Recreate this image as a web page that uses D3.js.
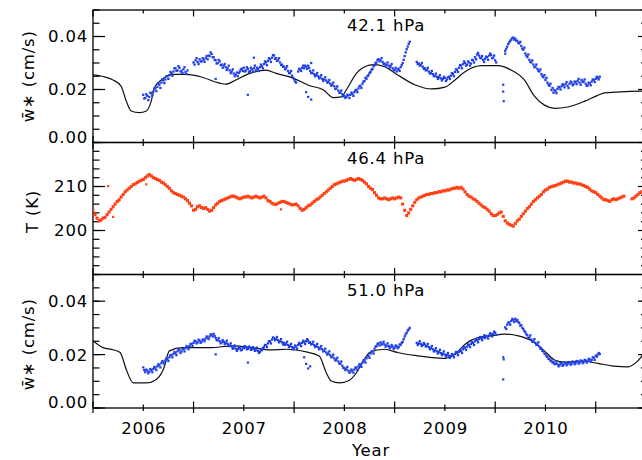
<!doctype html>
<html>
<head>
<meta charset="utf-8">
<title>w* and T at three pressure levels</title>
<script src="https://cdnjs.cloudflare.com/ajax/libs/d3/7.8.5/d3.min.js"></script>
<style>
body { margin: 0; background: #fff; }
text { font-family: "DejaVu Sans", sans-serif; font-size: 16.5px; letter-spacing: 0.8px; fill: #000; }
.frame { fill: none; stroke: #000; stroke-width: 1.3px; }
.tk { stroke: #000; stroke-width: 1.2px; }
.model { fill: none; stroke: #111; stroke-width: 1.2px; }
</style>
</head>
<body>
<script>
// ---- data (decimal years; sampled every 0.02 yr from the start year) ----
var yearLabels = [2006, 2007, 2008, 2009, 2010];
var halfYears = [2005.5, 2006.5, 2007.5, 2008.5, 2009.5, 2010.5];
var step = 0.02;

// 42.1 hPa, observed w* (cm/s): two interleaved sets of retrievals
var obs42Start = 2006.0;
var obs42 = [
  .0180,.0168,.0176,.0172,.0186,.0192,.0204,.0210,.0218,.0226,
  .0234,.0238,.0250,.0254,.0262,.0268,.0280,.0272,.0282,.0270,
  .0276,.0266,.0272,null,null,.0302,.0310,.0304,.0314,.0306,
  .0312,.0318,.0314,.0326,.0334,.0322,.0310,.0300,.0306,.0294,
  .0290,.0284,.0280,.0272,.0268,.0260,.0256,.0250,.0268,.0278,
  .0282,.0272,.0278,.0270,.0276,.0280,.0272,.0278,.0284,.0288,
  .0296,.0302,.0308,.0314,.0320,.0328,.0318,.0310,.0302,.0294,
  .0286,.0280,.0270,.0262,.0252,.0238,.0226,.0268,.0276,.0282,
  .0280,.0286,.0290,.0270,.0262,.0258,.0254,.0250,.0246,.0240,
  .0238,.0234,.0228,.0222,.0218,.0212,.0204,.0196,.0188,.0182,
  .0176,.0172,.0178,.0180,.0184,.0190,.0198,.0204,.0214,.0222,
  .0232,.0240,.0254,.0266,.0278,.0292,.0302,.0314,.0310,.0304,
  .0298,.0294,.0290,.0288,.0280,.0274,.0268,.0278,.0284,.0300,
  .0326,.0352,.0372,null,null,null,.0304,.0298,.0292,.0286,
  .0280,.0274,.0268,.0262,.0258,.0252,.0248,.0246,.0242,.0240,
  .0244,.0238,.0248,.0252,.0258,.0266,.0274,.0282,.0290,.0296,
  .0300,.0294,.0302,.0298,.0310,.0322,.0332,.0328,.0318,.0312,
  .0316,.0322,.0328,.0330,.0320,.0310,null,null,null,null,
  .0346,.0362,.0378,.0388,.0396,.0392,.0384,.0374,.0364,.0350,
  .0336,.0322,.0312,.0302,.0294,.0286,.0278,.0268,.0258,.0246,
  .0236,.0226,.0214,.0198,.0188,.0194,.0202,.0208,.0212,.0216,
  .0220,.0214,.0222,.0226,.0220,.0228,.0232,.0226,.0236,.0230,
  .0222,.0216,.0224,.0230,.0236,.0240,.0244,.0248
];
var obs42bStart = 2006.01;
var obs42b = [
  .0166,.0182,.0160,.0188,.0178,.0204,.0194,.0222,.0206,.0238,
  .0224,.0250,.0240,.0266,.0252,.0280,.0270,.0288,.0268,.0262,
  .0284,.0258,null,null,null,.0294,.0318,.0296,.0306,.0318,
  .0304,.0326,.0328,.0340,.0322,.0312,.0298,.0312,.0292,.0282,
  .0296,.0274,.0290,.0262,.0276,.0250,.0264,.0262,.0276,.0270,
  .0268,.0284,.0266,.0282,.0268,.0290,.0282,.0270,.0294,.0280,
  .0306,.0292,.0318,.0304,.0330,.0316,.0308,.0318,.0292,.0286,
  .0276,.0288,.0262,.0270,.0244,.0230,null,.0278,.0270,.0290,
  .0290,.0278,.0282,.0262,.0272,.0250,.0262,.0242,.0254,.0232,
  .0246,.0226,.0236,.0214,.0226,.0202,.0212,.0188,.0196,.0174,
  .0168,.0180,.0168,.0188,.0176,.0198,.0190,.0212,.0206,.0230,
  .0244,.0250,.0262,.0274,.0288,.0300,.0312,.0306,.0318,.0296,
  .0290,.0302,.0282,.0296,.0272,.0282,.0276,.0270,.0292,.0312,
  .0340,.0362,.0380,null,null,null,.0296,.0290,.0300,.0278,
  .0272,.0282,.0260,.0270,.0250,.0260,.0240,.0254,.0234,.0248,
  .0232,.0246,.0240,.0262,.0250,.0276,.0266,.0292,.0280,.0306,
  .0290,.0306,.0290,.0312,.0302,.0314,.0338,.0320,.0326,.0304,
  .0324,.0312,.0336,.0318,.0328,.0302,null,null,null,null,
  .0354,.0372,.0384,.0394,.0388,.0384,.0376,.0380,.0354,.0358,
  .0328,.0332,.0304,.0310,.0284,.0294,.0270,.0276,.0250,.0254,
  .0244,.0218,.0222,.0206,.0198,.0186,.0210,.0200,.0220,.0208,
  .0228,.0206,.0230,.0216,.0230,.0220,.0240,.0218,.0228,.0238,
  .0214,.0226,.0216,.0238,.0228,.0248,.0238,null
];
var out42Years = [2006.72, 2007.04, 2007.10, 2007.62, 2007.64, 2007.67, 2007.67, 2009.58, 2009.58, 2009.585, 2009.60];
var out42Vals  = [0.0240, 0.0180, 0.0320, 0.0190, 0.0172, 0.0162, 0.0300, 0.0218, 0.0192, 0.0156, 0.0335];

// 42.1 hPa, model w*
var mod42Years = [2005.5, 2005.6, 2005.7, 2005.78, 2005.83, 2005.88, 2005.96, 2006.03, 2006.08, 2006.11, 2006.18, 2006.30,
  2006.43, 2006.56, 2006.76, 2006.82, 2006.92, 2007.06, 2007.22, 2007.32, 2007.49, 2007.65, 2007.79, 2007.89, 2007.97,
  2008.02, 2008.12, 2008.25, 2008.30, 2008.40, 2008.53, 2008.70, 2008.87, 2009.00, 2009.10, 2009.20, 2009.36, 2009.53,
  2009.66, 2009.79, 2009.89, 2009.99, 2010.09, 2010.22, 2010.39, 2010.52, 2010.59, 2011.0];
var mod42Vals = [0.0255, 0.0249, 0.0236, 0.0212, 0.0157, 0.0119, 0.0113, 0.0119, 0.0157, 0.0206, 0.0236, 0.0257,
  0.0257, 0.0249, 0.0224, 0.0220, 0.0236, 0.0261, 0.0273, 0.0261, 0.0243, 0.0215, 0.0199, 0.0169, 0.0172,
  0.0199, 0.0261, 0.0292, 0.0294, 0.0286, 0.0255, 0.0218, 0.0202, 0.0209, 0.0236, 0.0267, 0.0290, 0.0290,
  0.0273, 0.0236, 0.0175, 0.0141, 0.0129, 0.0134, 0.0156, 0.0178, 0.0187, 0.0194];

// 46.4 hPa, temperature (K), from 2005.50
var temp46Start = 2005.5;
var temp46 = [
  204.4,203.6,202.8,202.2,202.4,202.8,203.0,203.6,204.2,204.8,
  205.4,206.0,206.6,207.0,207.6,208.2,208.8,209.2,209.6,210.0,
  210.4,210.6,210.9,211.2,211.4,211.6,212.0,212.4,212.7,212.4,
  212.0,211.8,211.6,211.4,211.0,210.8,210.4,210.0,209.6,209.0,
  208.6,208.4,208.2,208.0,207.8,207.6,207.2,206.8,206.2,205.6,
  204.6,204.8,205.4,205.6,205.2,205.0,205.2,204.8,204.4,204.6,
  205.2,205.8,206.2,206.6,206.8,207.0,207.2,207.4,207.6,207.8,
  207.8,207.6,207.4,207.2,207.4,207.6,207.6,207.8,207.6,207.4,
  207.6,207.8,207.6,207.4,207.6,207.8,207.4,206.8,206.6,206.2,
  206.0,205.9,206.2,206.4,206.6,206.6,206.4,206.2,206.0,205.8,
  205.9,206.0,205.6,205.0,204.6,204.8,205.2,205.6,205.8,206.2,
  206.6,207.0,207.2,207.6,208.0,208.4,208.8,209.2,209.6,210.0,
  210.4,210.6,210.8,211.0,211.2,211.2,211.4,211.6,211.8,211.6,
  211.4,211.6,211.8,211.6,211.4,211.0,210.6,210.0,209.6,209.3,
  208.6,208.0,207.4,207.2,207.2,207.4,207.2,207.0,207.2,207.4,
  207.2,207.4,207.6,207.4,206.0,204.6,203.4,204.0,204.8,205.6,
  206.4,207.0,207.4,207.6,207.8,208.0,208.2,208.2,208.4,208.4,
  208.6,208.6,208.8,208.8,209.0,209.0,209.2,209.2,209.4,209.6,
  209.6,209.8,209.6,209.8,209.4,208.8,208.2,207.8,207.6,207.2,
  207.0,206.6,206.2,205.8,205.4,205.2,204.8,204.4,203.8,203.4,
  203.4,203.6,204.0,204.2,203.2,202.2,201.7,201.4,201.2,201.0,
  201.6,202.2,202.6,203.2,203.8,204.4,205.0,205.4,206.0,206.6,
  207.0,207.4,207.8,208.2,208.8,209.2,209.4,209.8,210.0,210.1,
  210.2,210.4,210.6,210.8,211.0,211.2,211.2,211.0,211.0,210.8,
  210.8,210.6,210.6,210.4,210.2,210.0,209.8,209.4,209.0,208.8,
  208.6,208.2,207.8,207.4,207.0,207.0,206.8,206.6,207.0,207.2,
  207.0,207.2,207.4,207.6,207.8,null,null,null,207.2,207.4,
  207.8,208.2,208.6,208.8,209.0,209.4
];
var out46Years = [2005.65, 2005.70, 2005.75, 2006.03, 2007.37];
var out46Vals  = [210.1, 203.1, 206.6, 210.5, 204.8];

// 51.0 hPa, observed w* (cm/s): two interleaved sets of retrievals
var obs51Start = 2006.0;
var obs51 = [
  .0152,.0134,.0140,.0136,.0142,.0146,.0150,.0156,.0160,.0168,
  .0172,.0178,.0184,.0190,.0198,.0202,.0206,.0212,.0216,.0212,
  .0220,.0224,.0228,.0232,.0240,.0244,.0250,.0246,.0252,.0248,
  .0256,.0260,.0264,.0268,.0274,.0278,.0262,.0254,.0250,.0246,
  .0248,.0244,.0240,.0234,.0230,.0226,.0222,.0220,.0224,.0218,
  .0224,.0228,.0222,.0226,.0220,.0222,.0218,.0214,.0210,.0216,
  .0228,.0236,.0242,.0250,.0256,.0262,.0258,.0254,.0250,.0246,
  .0244,.0240,.0236,.0232,.0228,.0226,.0230,.0236,.0240,.0244,
  .0248,.0250,.0252,.0246,.0240,.0236,.0232,.0228,.0224,.0220,
  .0214,.0208,.0204,.0198,.0192,.0186,.0180,.0174,.0166,.0158,
  .0150,.0146,.0140,.0136,.0140,.0144,.0150,.0156,.0162,.0170,
  .0178,.0186,.0196,.0204,.0212,.0222,.0232,.0242,.0246,.0240,
  .0238,.0234,.0232,.0228,.0230,.0226,.0232,.0228,.0236,.0248,
  .0268,.0282,.0294,null,null,null,.0244,.0242,.0240,.0236,
  .0238,.0232,.0228,.0224,.0220,.0216,.0212,.0210,.0206,.0204,
  .0200,.0198,.0196,.0194,.0198,.0202,.0206,.0210,.0214,.0220,
  .0226,.0230,.0236,.0240,.0244,.0250,.0254,.0258,.0262,.0264,
  .0262,.0268,.0272,.0276,.0278,.0282,null,null,null,null,
  .0302,.0312,.0320,.0326,.0330,.0334,.0330,.0318,.0310,.0296,
  .0284,.0272,.0264,.0256,.0250,.0244,.0238,.0230,.0222,.0212,
  .0202,.0192,.0184,.0178,.0172,.0166,.0164,.0160,.0166,.0162,
  .0168,.0164,.0170,.0166,.0172,.0168,.0174,.0170,.0176,.0172,
  .0178,.0176,.0182,.0180,.0188,.0196,.0200,.0202
];
var obs51bStart = 2006.01;
var obs51b = [
  .0142,.0144,.0130,.0146,.0134,.0154,.0142,.0164,.0152,.0176,
  .0164,.0186,.0176,.0198,.0190,.0210,.0198,.0220,.0206,.0222,
  .0212,.0232,.0220,.0240,.0232,.0252,.0242,.0256,.0244,.0256,
  .0250,.0268,.0258,.0276,.0268,.0270,.0254,.0262,.0242,.0254,
  .0240,.0252,.0232,.0242,.0222,.0234,.0214,.0228,.0216,.0226,
  .0232,.0220,.0230,.0218,.0228,.0214,.0226,.0206,.0218,.0224,
  .0236,.0228,.0250,.0242,.0264,.0254,.0266,.0246,.0258,.0238,
  .0236,.0248,.0228,.0240,.0220,.0234,.0222,.0244,.0232,.0252,
  .0240,.0258,.0244,.0238,.0248,.0228,.0240,.0220,.0232,.0212,
  .0222,.0200,.0212,.0190,.0200,.0178,.0188,.0166,.0174,.0150,
  .0142,.0154,.0132,.0144,.0132,.0152,.0142,.0164,.0154,.0178,
  .0170,.0194,.0188,.0212,.0204,.0230,.0240,.0234,.0238,.0248,
  .0230,.0242,.0224,.0236,.0222,.0234,.0224,.0238,.0244,.0258,
  .0276,.0290,.0300,null,null,null,.0236,.0250,.0232,.0244,
  .0230,.0240,.0220,.0232,.0212,.0224,.0204,.0218,.0198,.0212,
  .0192,.0206,.0188,.0202,.0190,.0210,.0198,.0218,.0206,.0228,
  .0218,.0238,.0228,.0248,.0236,.0258,.0246,.0266,.0254,.0272,
  .0270,.0260,.0280,.0268,.0286,.0274,null,null,null,null,
  .0296,.0320,.0312,.0334,.0322,.0326,.0322,.0308,.0300,.0288,
  .0276,.0262,.0272,.0248,.0258,.0236,.0246,.0222,.0214,.0204,
  .0194,.0184,.0176,.0170,.0164,.0174,.0156,.0168,.0158,.0170,
  .0160,.0172,.0162,.0174,.0164,.0176,.0166,.0178,.0168,.0180,
  .0170,.0184,.0174,.0190,.0180,.0192,.0206,null
];
var out51Years = [2006.72, 2007.04, 2007.60, 2007.62, 2007.64, 2007.66, 2009.58, 2009.585, 2009.58];
var out51Vals  = [0.0201, 0.0170, 0.0190, 0.0165, 0.0148, 0.0156, 0.0190, 0.0182, 0.0107];

// 51.0 hPa, model w*
var mod51Years = [2005.5, 2005.6, 2005.7, 2005.77, 2005.83, 2005.90, 2006.03, 2006.13, 2006.20, 2006.26, 2006.39,
  2006.66, 2006.89, 2007.09, 2007.26, 2007.42, 2007.62, 2007.75, 2007.82, 2007.87, 2007.95, 2008.05, 2008.12,
  2008.18, 2008.25, 2008.40, 2008.53, 2008.70, 2008.87, 2009.0, 2009.10, 2009.20, 2009.33, 2009.46, 2009.59,
  2009.73, 2009.86, 2009.99, 2010.09, 2010.19, 2010.36, 2010.52, 2010.68, 2010.82, 2010.90, 2011.0];
var mod51Vals = [0.0252, 0.0226, 0.0218, 0.0208, 0.0145, 0.0094, 0.0094, 0.0107, 0.0145, 0.0214, 0.0226,
  0.0226, 0.0233, 0.0226, 0.0218, 0.0220, 0.0210, 0.0195, 0.0132, 0.0101, 0.0094, 0.0104, 0.0132,
  0.0170, 0.0208, 0.0220, 0.0208, 0.0197, 0.0189, 0.0186, 0.0201, 0.0239, 0.0264, 0.0270, 0.0277,
  0.0270, 0.0252, 0.0214, 0.0180, 0.0172, 0.0176, 0.0167, 0.0157, 0.0154, 0.0170, 0.0215];

// ---- layout ----
var width = 642, height = 460,
    left = 93, right = 646;
var blue = "#1f3fe6", red = "#ff4115";

var svg = d3.select("body").append("svg")
    .attr("width", width)
    .attr("height", height);

svg.append("defs").append("clipPath").attr("id", "plotclip")
  .append("rect").attr("x", left).attr("y", 10).attr("width", right - left).attr("height", 398);

var x = d3.scaleLinear().domain([2005.5, 2011.0]).range([left, right]);

var panels = [
  {title: "42.1 hPa", top: 10, bottom: 142.5, domain: [0, 0.05], major: [0, 0.02, 0.04], minorStep: 0.005,
   fmt: d3.format(".2f"), ylabel: "w", labX: 34, labDy: 0},
  {title: "46.4 hPa", top: 142.5, bottom: 274.5, domain: [190, 220], major: [200, 210], minorStep: 2,
   fmt: d3.format("d"), ylabel: "T (K)", labX: 38, labDy: 3},
  {title: "51.0 hPa", top: 274.5, bottom: 408, domain: [0, 0.05], major: [0, 0.02, 0.04], minorStep: 0.005,
   fmt: d3.format(".2f"), ylabel: "w", labX: 34, labDy: 3}
];

panels.forEach(function(p) {
  p.y = d3.scaleLinear().domain(p.domain).range([p.bottom, p.top]);
  var g = svg.append("g");

  // x ticks, inward at top and bottom
  yearLabels.forEach(function(v) {
    g.append("line").attr("class", "tk").attr("x1", x(v)).attr("x2", x(v)).attr("y1", p.top).attr("y2", p.top + 3.5);
    g.append("line").attr("class", "tk").attr("x1", x(v)).attr("x2", x(v)).attr("y1", p.bottom).attr("y2", p.bottom - 3.5);
  });
  halfYears.forEach(function(v) {
    g.append("line").attr("class", "tk").attr("x1", x(v)).attr("x2", x(v)).attr("y1", p.top).attr("y2", p.top + 6.5);
    g.append("line").attr("class", "tk").attr("x1", x(v)).attr("x2", x(v)).attr("y1", p.bottom).attr("y2", p.bottom - 6.5);
  });

  // y ticks, left and right, inward
  var minor = d3.range(p.domain[0], p.domain[1] + p.minorStep / 2, p.minorStep);
  minor.forEach(function(v) {
    g.append("line").attr("class", "tk").attr("x1", left).attr("x2", left + 6.5).attr("y1", p.y(v)).attr("y2", p.y(v));
    g.append("line").attr("class", "tk").attr("x1", right).attr("x2", right - 5).attr("y1", p.y(v)).attr("y2", p.y(v));
  });
  p.major.forEach(function(v) {
    g.append("line").attr("class", "tk").attr("x1", left).attr("x2", left + 12).attr("y1", p.y(v)).attr("y2", p.y(v));
    g.append("line").attr("class", "tk").attr("x1", right).attr("x2", right - 8).attr("y1", p.y(v)).attr("y2", p.y(v));
    g.append("text")
      .attr("x", 88)
      .attr("y", p.y(v) + (v === p.domain[0] ? -5.5 : 0))
      .attr("dy", "0.36em")
      .attr("text-anchor", "end")
      .text(p.fmt(v));
  });

  g.append("rect").attr("class", "frame")
    .attr("x", left).attr("y", p.top).attr("width", right - left).attr("height", p.bottom - p.top);

  g.append("text")
    .attr("x", 386).attr("y", p.top + 21)
    .attr("text-anchor", "middle")
    .text(p.title);

  // y-axis title
  var yl = g.append("text")
    .attr("transform", "translate(" + p.labX + "," + ((p.top + p.bottom) / 2 + p.labDy) + ") rotate(-90)")
    .attr("text-anchor", "middle");
  if (p.ylabel === "w") {
    yl.text("w\u0304\u2217 (cm/s)");
  } else {
    yl.text(p.ylabel);
  }
});

// bottom axis: outward ticks and year labels
var bot = svg.append("g");
yearLabels.forEach(function(v) {
  bot.append("line").attr("class", "tk").attr("x1", x(v)).attr("x2", x(v)).attr("y1", 408).attr("y2", 411);
  bot.append("text").attr("x", x(v) + 0.5).attr("y", 434).attr("text-anchor", "middle").text(v);
});
halfYears.forEach(function(v) {
  bot.append("line").attr("class", "tk").attr("x1", x(v)).attr("x2", x(v)).attr("y1", 408).attr("y2", 413);
});
svg.append("text").attr("x", 371).attr("y", 456).attr("text-anchor", "middle").text("Year");

// ---- marks ----
var plot = svg.append("g").attr("clip-path", "url(#plotclip)");

function series(start, vals) {
  return vals.map(function(v, i) { return [start + i * step, v]; })
             .filter(function(d) { return d[1] != null; });
}
function pairs(xs, vs) {
  return xs.map(function(t, i) { return [t, vs[i]]; });
}
function drawDots(data, y, color, s) {
  plot.append("g").selectAll("rect").data(data).enter().append("rect")
    .attr("x", function(d) { return x(d[0]) - s / 2; })
    .attr("y", function(d) { return y(d[1]) - s / 2; })
    .attr("width", s).attr("height", s)
    .attr("fill", color);
}
function drawModel(data, y) {
  var line = d3.line()
    .x(function(d) { return x(d[0]); })
    .y(function(d) { return y(d[1]); })
    .curve(d3.curveMonotoneX);
  plot.append("path").datum(data).attr("class", "model").attr("d", line);
}

drawModel(pairs(mod42Years, mod42Vals), panels[0].y);
drawDots(series(obs42Start, obs42), panels[0].y, blue, 2.3);
drawDots(series(obs42bStart, obs42b), panels[0].y, blue, 2.3);
drawDots(pairs(out42Years, out42Vals), panels[0].y, blue, 2.2);

drawDots(series(temp46Start, temp46), panels[1].y, red, 3.1);
drawDots(pairs(out46Years, out46Vals), panels[1].y, red, 2.2);

drawModel(pairs(mod51Years, mod51Vals), panels[2].y);
drawDots(series(obs51Start, obs51), panels[2].y, blue, 2.3);
drawDots(series(obs51bStart, obs51b), panels[2].y, blue, 2.3);
drawDots(pairs(out51Years, out51Vals), panels[2].y, blue, 2.2);
</script>
</body>
</html>
